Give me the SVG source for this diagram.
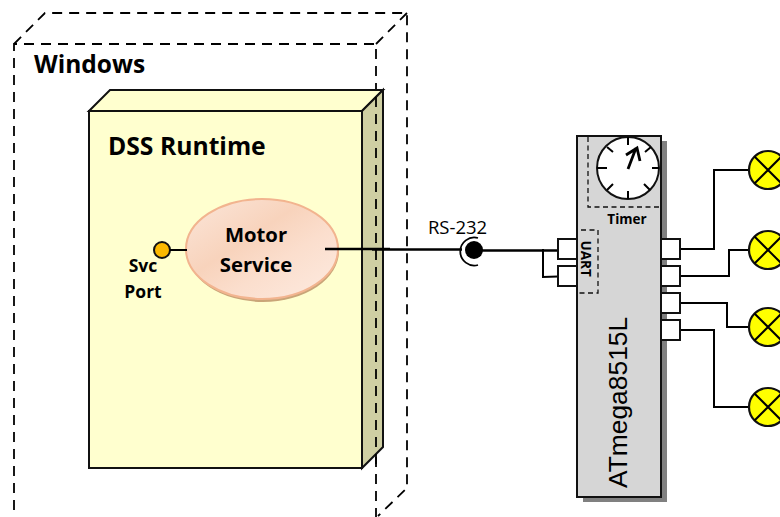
<svg xmlns="http://www.w3.org/2000/svg" width="780" height="517" viewBox="0 0 780 517">
<style>
.ln{fill:none;stroke:#000;stroke-width:2}
.dash{fill:none;stroke:#000;stroke-width:1.800;stroke-dasharray:10 7}
.dash2{fill:none;stroke:#111;stroke-width:1.300;stroke-dasharray:5 3.5}
.pin{fill:#fff;stroke:#111;stroke-width:2}
.lamp{fill:#ff0;stroke:#111;stroke-width:2.200}
text{font-family:"Open Sans","Noto Sans","Liberation Sans",sans-serif;fill:#000}
.b{font-weight:700}
</style>
<defs>
<linearGradient id="eg" x1="0" y1="0" x2="1" y2="1"><stop offset="0" stop-color="#fbe6da"/><stop offset=".4" stop-color="#f8d3bc"/><stop offset=".62" stop-color="#fbdecd"/><stop offset="1" stop-color="#fdebe1"/></linearGradient>
</defs>
<g id="windows">
<path class="dash" d="M14 510V44H376V517M14 44L45 13H407V488L378 516M376 44L407 13"/>
<text class="b" x="34" y="73" font-size="24.500">Windows</text>
</g>
<g id="dss-runtime">
<path d="M89 111L110 90H383L362 111Z" fill="#ffffcf" stroke="#111" stroke-width="2"/>
<path d="M362 111L383 90V447L362 468Z" fill="#cfcfa3" stroke="#111" stroke-width="2"/>
<rect x="89" y="111" width="273" height="357" fill="#ffffcf" stroke="#111" stroke-width="2"/>
<text class="b" x="108" y="155" font-size="24.700">DSS Runtime</text>
<path class="dash" d="M376 97V470"/>
</g>
<g id="motor-service">
<ellipse cx="263" cy="251" rx="76" ry="51" fill="#c9a578"/>
<ellipse cx="262" cy="249" rx="76" ry="50" fill="url(#eg)" stroke="#f2b48f" stroke-width="2"/>
<text class="b" x="256" y="242" font-size="20.300" text-anchor="middle">Motor</text>
<text class="b" x="256" y="272" font-size="20.300" text-anchor="middle">Service</text>
</g>
<g id="svc-port">
<circle cx="162" cy="250" r="8" fill="#fcb900" stroke="#111" stroke-width="2"/>
<text class="b" x="143" y="272" font-size="17.500" text-anchor="middle">Svc</text>
<text class="b" x="143" y="298" font-size="17.500" text-anchor="middle">Port</text>
</g>
<g id="connectors">
<path class="ln" d="M170 250H187"/>
<path d="M325 249H390M372 249.500H462M475 250.500H560" fill="none" stroke="#000" stroke-width="2.600"/>
<path class="ln" d="M543 249V277L558 276.500"/>
<path class="ln" d="M680 249H714V170H750M680 276H729V250H750M680 303H727V327H750M680 330H714V407H750"/>
</g>
<g id="rs232">
<text x="457.500" y="234" font-size="18.500" text-anchor="middle">RS-232</text>
<path d="M478 238A14 14 0 1 0 478 265" fill="none" stroke="#000" stroke-width="1.800"/>
<circle cx="474" cy="250" r="9" fill="#000"/>
</g>
<g id="atmega">
<rect x="583" y="141" width="84" height="361" fill="#808080"/>
<rect x="577" y="136" width="84" height="361" fill="#d6d6d6" stroke="#111" stroke-width="2"/>
<path class="dash2" d="M588 137V207H660"/>
<circle cx="628" cy="168" r="31" fill="#fff" stroke="#111" stroke-width="2"/>
<path class="ln" d="M628 137V145M628 191V199M597 168H607M652 168H659M607 147L613 152M644 184L650 190M607 190L613 184M645 152L651 147"/>
<path d="M628 169L636 148M626 155L637 148L640 161" fill="none" stroke="#000" stroke-width="2.800"/>
<text class="b" x="627" y="224" font-size="13.500" text-anchor="middle">Timer</text>
<path class="dash2" d="M581 230H598V293H578"/>
<text class="b" transform="translate(581 240.500) rotate(90)" font-size="13.500">UART</text>
<text transform="translate(627 488) rotate(-90)" font-size="26.400" style="font-family:'Liberation Sans',sans-serif">ATmega8515L</text>
</g>
<g id="pins">
<rect class="pin" x="558" y="239" width="19" height="20"/>
<rect class="pin" x="558" y="266" width="19" height="20"/>
<rect class="pin" x="661" y="239" width="19" height="20"/>
<rect class="pin" x="661" y="266" width="19" height="20"/>
<rect class="pin" x="661" y="293" width="19" height="20"/>
<rect class="pin" x="661" y="320" width="19" height="20"/>
</g>
<g id="lamp1"><circle class="lamp" cx="768" cy="170" r="19"/><path class="ln" d="M754.500 156.500L781.500 183.500M754.500 183.500L781.500 156.500"/></g>
<g id="lamp2"><circle class="lamp" cx="768" cy="250" r="19"/><path class="ln" d="M754.500 236.500L781.500 263.500M754.500 263.500L781.500 236.500"/></g>
<g id="lamp3"><circle class="lamp" cx="768" cy="327" r="19"/><path class="ln" d="M754.500 313.500L781.500 340.500M754.500 340.500L781.500 313.500"/></g>
<g id="lamp4"><circle class="lamp" cx="768" cy="407" r="19"/><path class="ln" d="M754.500 393.500L781.500 420.500M754.500 420.500L781.500 393.500"/></g>
</svg>
